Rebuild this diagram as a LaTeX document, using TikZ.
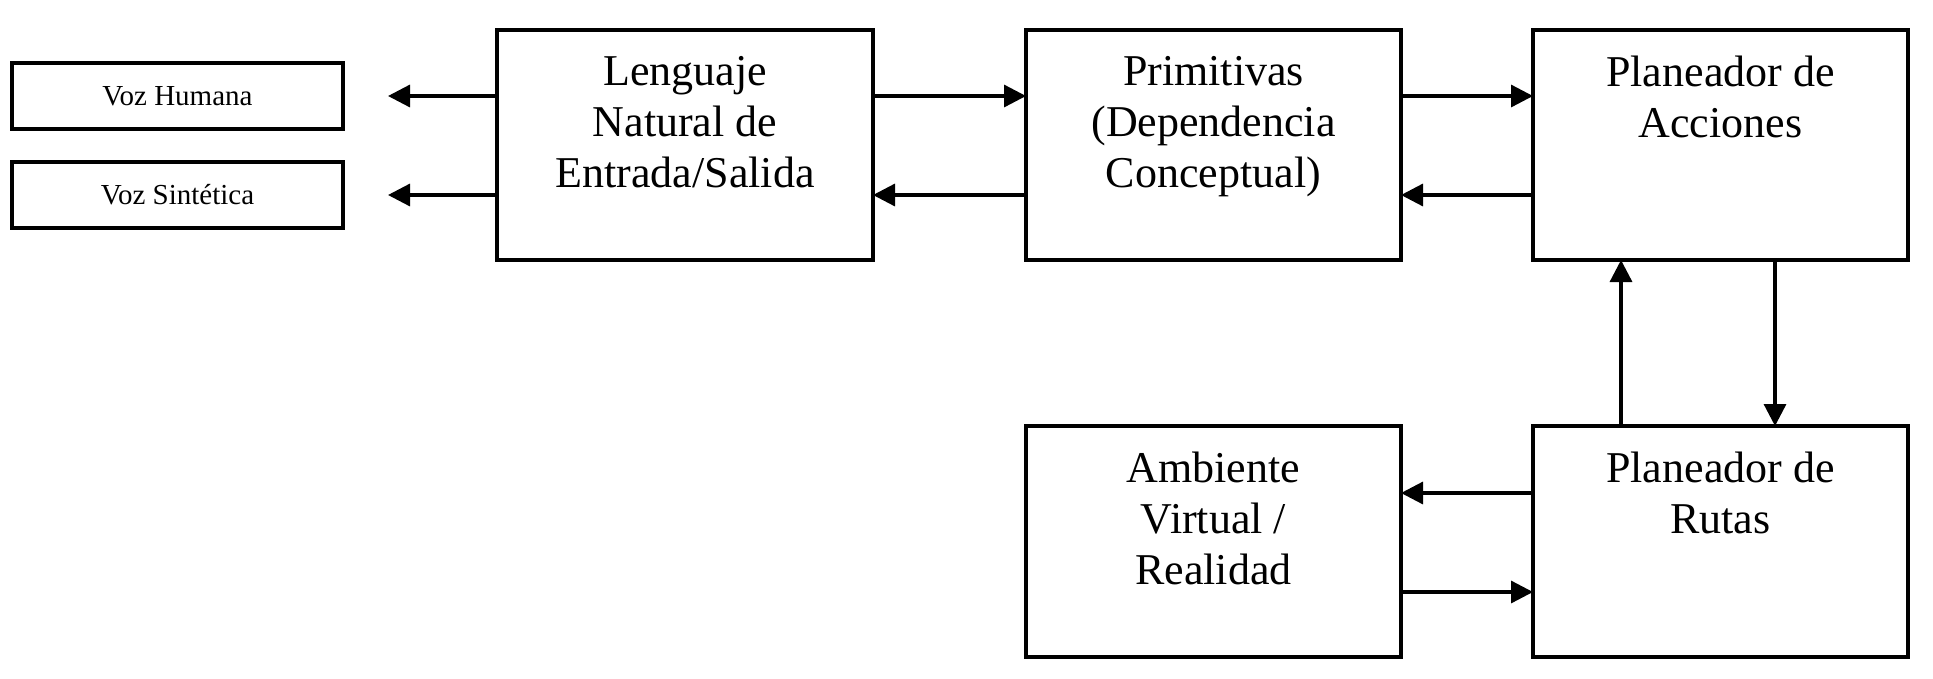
\documentclass[tikz,border=0pt]{standalone}
\usepackage{fontspec}
\setmainfont{Liberation Serif}
\usetikzlibrary{arrows.meta}
\begin{document}
\begin{tikzpicture}[x=1pt,y=-1pt,
  box/.style={draw, line width=4pt, minimum width=375pt, minimum height=230pt, inner sep=0pt, outer sep=0pt},
  smallbox/.style={draw, line width=4pt, minimum width=331pt, minimum height=66pt, inner sep=0pt, outer sep=0pt, font=\fontsize{29}{34}\selectfont},
  boxtext/.style={font=\fontsize{44}{51}\selectfont, align=center, anchor=north, inner sep=0pt, yshift=-26pt, execute at begin node=\strut},
  conn/.style={line width=3.3pt, -{Triangle[length=22pt,width=22pt]}}
]
\useasboundingbox (0,0) rectangle (1933,678);
% boxes
\node[smallbox] (vh) at (177.5,96) {Voz Humana};
\node[smallbox] (vs) at (177.5,195) {Voz Sintética};
\node[box, minimum width=376pt] (len) at (685,145) {};
\node[box] (pri) at (1213.5,145) {};
\node[box] (acc) at (1720.5,145) {};
\node[box, minimum height=231pt] (amb) at (1213.5,541.5) {};
\node[box, minimum height=231pt] (rut) at (1720.5,541.5) {};
% texts
\node[boxtext] (lenT) at (len.north) {Lenguaje\\Natural de\\Entrada/Salida};
\node[boxtext] (priT) at (pri.north) {Primitivas\\(Dependencia\\Conceptual)};
\node[boxtext] (accT) at (acc.north) {Planeador de\\Acciones};
\node[boxtext] (ambT) at (amb.north) {Ambiente\\Virtual /\\Realidad};
\node[boxtext] (rutT) at (rut.north) {Planeador de\\Rutas};
% free ends
\coordinate (vhE) at (388,96);
\coordinate (vsE) at (388,195);
% connectors
\draw[conn] (len.west |- vhE) -- (vhE);
\draw[conn] (len.west |- vsE) -- (vsE);
\draw[conn] (len.east |- 0,96) -- (pri.west |- 0,96);
\draw[conn] (pri.west |- 0,195) -- (len.east |- 0,195);
\draw[conn] (pri.east |- 0,96) -- (acc.west |- 0,96);
\draw[conn] (acc.west |- 0,195) -- (pri.east |- 0,195);
\draw[conn] (rut.north -| 1621,0) -- (acc.south -| 1621,0);
\draw[conn] (acc.south -| 1775,0) -- (rut.north -| 1775,0);
\draw[conn] (rut.west |- 0,493) -- (amb.east |- 0,493);
\draw[conn] (amb.east |- 0,592) -- (rut.west |- 0,592);
\end{tikzpicture}
\end{document}
